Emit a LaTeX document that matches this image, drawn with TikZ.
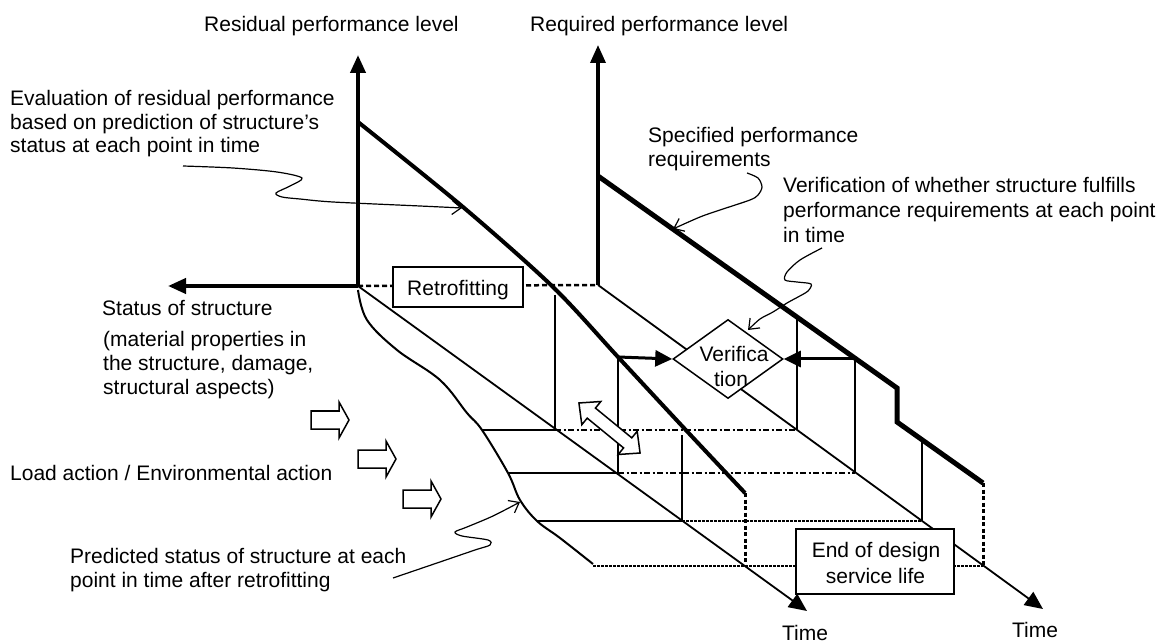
\documentclass[tikz,border=0pt]{standalone}
\usepackage{fontspec}
\setmainfont{Liberation Sans}
\usetikzlibrary{arrows.meta,shapes.geometric}
\begin{document}
\begin{tikzpicture}[x=1pt,y=-1pt,
  font=\fontsize{21}{24}\selectfont,
  lbl/.style={inner sep=0pt, anchor=base west},
  clbl/.style={inner sep=0pt, anchor=base},
  axisA/.style={line width=4pt, -{Triangle[length=18pt,width=15pt]}},
  axisB/.style={line width=3.5pt, -{Triangle[length=18pt,width=15pt]}},
  timeax/.style={line width=1.8pt, -{Triangle[length=18pt,width=16pt]}},
  perfline/.style={line width=4pt, line join=round},
  reqline/.style={line width=5pt, line join=miter},
  thinln/.style={line width=1.5pt},
  statln/.style={line width=2pt},
  dashA/.style={line width=2.5pt, dash pattern=on 5pt off 3pt},
  dashB/.style={line width=2.8pt, dash pattern=on 6pt off 2.5pt on 2pt off 2.5pt},
  dotC/.style={line width=2.2pt, dash pattern=on 2.5pt off 1.5pt},
  vdot/.style={line width=3pt, dash pattern=on 4pt off 2.5pt},
  verarrow/.style={line width=3pt, -{Triangle[length=17pt,width=16pt]}},
  leader/.style={line width=1.2pt, -{Straight Barb[length=9pt,width=14pt]}},
  blk/.style={draw, fill=white, line width=1.5pt, line join=miter},
  boxed/.style={draw, fill=white, line width=1.5pt, inner sep=0pt}
]
\useasboundingbox (0,0) rectangle (1168,644);

% origins and axis ends
\coordinate (O1) at (358,286);
\coordinate (O2) at (598,285);
\coordinate (Y1) at (358,55);
\coordinate (X1) at (168,286);
\coordinate (Y2) at (598,45);
\coordinate (T1) at (807,611);
\coordinate (T2) at (1043,609);

% points on residual performance curve
\coordinate (R0) at (358,122);
\coordinate (R5) at (745,493);
% points on required performance line
\coordinate (Q0) at (598,176);
\coordinate (Q1) at (897,388);
\coordinate (Q2) at (897,422);
\coordinate (Q3) at (983,483);

% level lines
\coordinate (LA0) at (482,430); \coordinate (LA1) at (555,430); \coordinate (LA2) at (797,430);
\coordinate (LB0) at (508,473); \coordinate (LB1) at (618,473); \coordinate (LB2) at (855,473);
\coordinate (LC0) at (537,521); \coordinate (LC1) at (682,521); \coordinate (LC2) at (922,521);
\coordinate (LD0) at (593,566); \coordinate (LD1) at (745,566); \coordinate (LD2) at (983,566);

\coordinate (VA) at (555,295);
\coordinate (VB) at (618,357);
\coordinate (VC) at (682,435);
\coordinate (WA) at (797,317);
\coordinate (WB) at (855,359);
\coordinate (WC) at (922,440);

% time axes
\draw[timeax] (O1) -- (T1);
\draw[timeax] (O2) -- (T2);

% dashed retrofitting line
\draw[dashA] (O1) -- (O2);

% level lines
\draw[thinln] (LA0) -- (LA1);
\draw[dashB] (LA1) -- (LA2);
\draw[thinln] (LB0) -- (LB1);
\draw[dashB] (LB1) -- (LB2);
\draw[thinln] (LC0) -- (LC1);
\draw[dotC] (LC1) -- (LC2);
\draw[dotC] (LD0) -- (LD2);

% verticals
\draw[thinln] (VA) -- (LA1);
\draw[thinln] (VB) -- (LB1);
\draw[thinln] (VC) -- (LC1);
\draw[thinln] (WA) -- (LA2);
\draw[thinln] (WB) -- (LB2);
\draw[thinln] (WC) -- (LC2);
\draw[vdot] (R5) -- (LD1);
\draw[vdot] (Q3) -- (LD2);

% status-of-structure curve
\draw[statln] plot[smooth, tension=0.6] coordinates {(358,290) (367,320) (397,350) (440,380) (467,413) (482,430) (508,473) (520,500) (537,521) (560,538) (593,564)};

% residual performance curve
\draw[perfline] plot[smooth, tension=0.5] coordinates {(R0) (463,207) (553,287) (618,357) (683,427) (R5)};

% required performance line
\draw[reqline] (Q0) -- (Q1) -- (Q2) -- (Q3);

% axes
\draw[axisA] (O1) -- (Y1);
\draw[axisA] (O1) -- (X1);
\draw[axisB] (O2) -- (Y2);

% block arrows (actions)
\draw[blk] (311,411) -- ++(28,0) -- ++(0,-9) -- ++(10,18) -- ++(-10,18) -- ++(0,-9) -- ++(-28,0) -- cycle;
\draw[blk] (358,450) -- ++(28,0) -- ++(0,-9) -- ++(10,18) -- ++(-10,18) -- ++(0,-9) -- ++(-28,0) -- cycle;
\draw[blk] (403,490) -- ++(28,0) -- ++(0,-9) -- ++(10,18) -- ++(-10,18) -- ++(0,-9) -- ++(-28,0) -- cycle;

% double block arrow
\draw[blk, shift={(609.5,428)}, rotate=-39.3]
  (-39.5,0) -- (-23.5,15) -- (-23.5,6.5) -- (23.5,6.5) -- (23.5,15) -- (39.5,0)
  -- (23.5,-15) -- (23.5,-6.5) -- (-23.5,-6.5) -- (-23.5,-15) -- cycle;

% boxes
\node[boxed, minimum width=130pt, minimum height=40pt, text height=18pt, text depth=0pt] (retro) at (458,287) {Retrofitting};
\node[boxed, minimum width=158pt, minimum height=65pt] (endbox) at (875,561.5) {};
\node[clbl] (end1) at (876,557) {End of design};
\node[clbl] (end2) at (875.5,583) {service life};

\node[draw, fill=white, line width=1.5pt, shape=diamond, inner sep=0pt, minimum width=110pt, minimum height=79pt] (ver) at (728,359) {};
\node[clbl] (ver1) at (734,362) {Verifica};
\node[clbl] (ver2) at (731,387) {tion};

% arrows into verification
\draw[verarrow] (VB) -- (ver.west);
\draw[verarrow] (WB) -- (ver.east);

% leaders
\draw[leader] plot[smooth, tension=0.5] coordinates {(183,166) (233,168) (277,172) (302,178) (290,186) (276,193) (282,197) (300,199) (333,202) (420,206) (462,208)};
\draw[leader] plot[smooth, tension=0.5] coordinates {(747,173) (758,178) (762,187) (758,195) (750,200) (720,210) (700,217) (673,229)};
\draw[leader] plot[smooth, tension=0.5] coordinates {(822,248) (800,260) (787,272) (785,280) (797,282) (811,284) (808,291) (798,297) (787,303) (773,312) (760,319) (748,330)};
\draw[leader] plot[smooth, tension=0.5] coordinates {(393,578) (437,563) (475,550) (490,545) (488,540) (462,536) (455,532) (467,527) (493,516) (520,502)};

% labels
\node[lbl] (resl) at (204,32) {Residual performance level};
\node[lbl] (reql) at (530,32) {Required performance level};
\node[lbl] (ev1) at (10,106) {Evaluation of residual performance};
\node[lbl] (ev2) at (10,130) {based on prediction of structure’s};
\node[lbl] (ev3) at (10,153) {status at each point in time};
\node[lbl] (sp1) at (648,143) {Specified performance};
\node[lbl] (sp2) at (648,167) {requirements};
\node[lbl] (vf1) at (783,193) {Verification of whether structure fulfills};
\node[lbl] (vf2) at (783,218) {performance requirements at each point};
\node[lbl] (vf3) at (783,243) {in time};
\node[lbl] (st) at (102,316) {Status of structure};
\node[lbl] (m1) at (103,347) {(material properties in};
\node[lbl] (m2) at (103,371) {the structure, damage,};
\node[lbl] (m3) at (103,395) {structural aspects)};
\node[lbl] (ld) at (10,480) {Load action / Environmental action};
\node[lbl] (pr1) at (70,563) {Predicted status of structure at each};
\node[lbl] (pr2) at (70,587) {point in time after retrofitting};
\node[clbl] (time1) at (805,640) {Time};
\node[clbl] (time2) at (1035,637) {Time};
\end{tikzpicture}
\end{document}
